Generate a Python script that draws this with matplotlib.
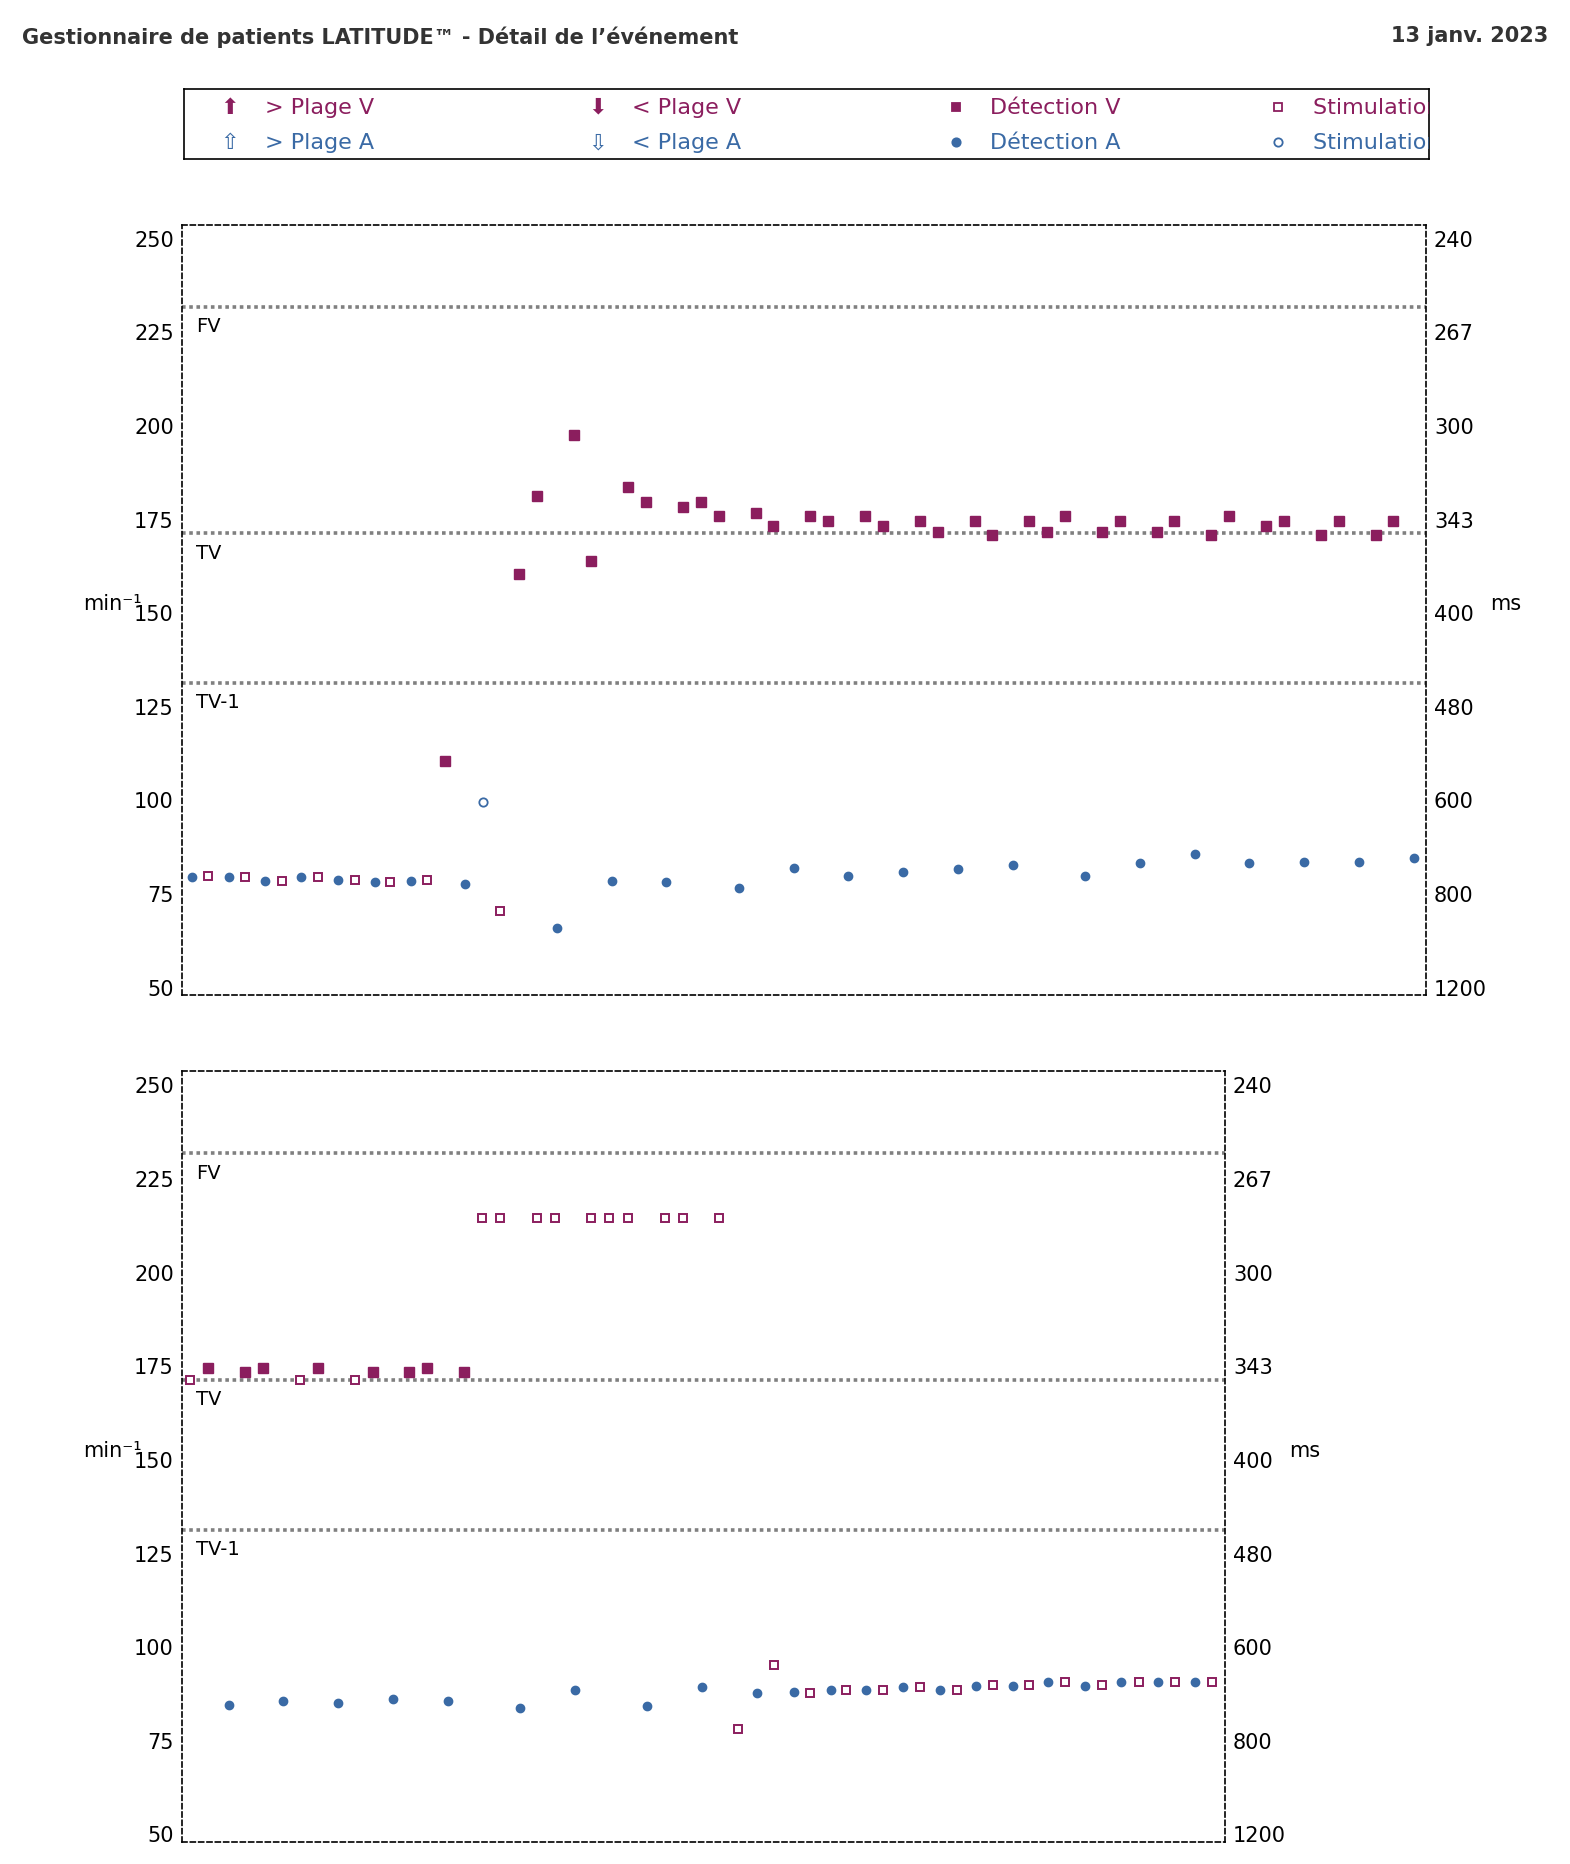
import matplotlib
matplotlib.use("Agg")
import matplotlib.pyplot as plt

MAG = "#8B1E5E"
BLUE = "#3A6AA5"

# ---- data (time in arbitrary units along the strip) ----
top_as_t = [8,39,70,100,131,162,192,238,315,361,407,468,514,560,606,652,698,759,805,851,897,943,989,1035]
top_as_v = [79.3,79.3,78.3,79.3,78.6,78.0,78.3,77.3,65.6,78.3,78.0,76.4,81.8,79.6,80.5,81.5,82.4,79.6,83.1,85.3,83.1,83.4,83.4,84.3]
top_vp_t = [22,53,84,114,145,175,206,267]
top_vp_v = [79.6,79.3,78.3,79.3,78.6,78.0,78.6,70.3]
top_vs_t = [221,283,298,329,344,375,390,421,436,451,482,497,528,543,574,589,620,635,666,681,712,727,742,773,788,819,834,865,880,911,926,957,972,1003,1018]
top_vs_v = [110.4,160.3,181.0,197.2,163.8,183.5,179.4,178.1,179.4,175.6,176.5,173.1,175.6,174.3,175.6,173.1,174.3,171.5,174.3,170.5,174.3,171.5,175.6,171.5,174.3,171.5,174.3,170.5,175.6,173.1,174.3,170.5,174.3,170.5,174.3]
top_ap_t = [253]
top_ap_v = [99.3]

bot_as_t = [39,85,131,177,223,284,330,391,437,483,514,545,575,606,637,667,698,728,759,789,820,851]
bot_as_v = [84.3,85.3,84.9,85.9,85.3,83.4,88.4,83.9,89.0,87.4,87.7,88.4,88.4,89.0,88.4,89.3,89.3,90.3,89.3,90.3,90.3,90.3]
bot_vs_t = [22,53,68,114,160,191,206,237]
bot_vs_v = [174.3,173.1,174.3,174.3,173.1,173.1,174.3,173.1]
bot_vp_t = [7,99,145,252,267,298,313,344,359,375,406,421,451,467,497,528,558,589,620,651,681,712,742,773,804,834,865]
bot_vp_v = [171.1,171.1,171.1,214.4,214.4,214.4,214.4,214.4,214.4,214.4,214.4,214.4,214.4,77.8,95.0,87.4,88.4,88.4,89.0,88.4,89.7,89.7,90.3,89.7,90.3,90.3,90.3]

zones = {"FV": 231.6, "TV": 171.1, "TV-1": 131.1}
yticks = [50, 75, 100, 125, 150, 175, 200, 225, 250]
ms_labels = ["1200", "800", "600", "480", "400", "343", "300", "267", "240"]

fig = plt.figure(figsize=(15.7, 18.65), dpi=100)
fig.text(0.014, 0.986, "Gestionnaire de patients LATITUDE™ - Détail de l’événement",
         fontsize=15, fontweight="bold", color="#333333", va="top")
fig.text(0.986, 0.986, "13 janv. 2023", fontsize=15, fontweight="bold",
         color="#333333", va="top", ha="right")

# legend box
lg = fig.add_axes([0.117, 0.914, 0.793, 0.038])
lg.set_xlim(0, 1); lg.set_ylim(0, 1)
lg.set_xticks([]); lg.set_yticks([])
for s in lg.spines.values():
    s.set_linewidth(1.2)
cols = [0.037, 0.332, 0.62, 0.879]
items = [
    [("> Plage V", "\u2b06", MAG), ("< Plage V", "\u2b07", MAG),
     ("Détection V", "s_f", MAG), ("Stimulation V", "s_o", MAG)],
    [("> Plage A", "\u21e7", BLUE), ("< Plage A", "\u21e9", BLUE),
     ("Détection A", "o_f", BLUE), ("Stimulation A", "o_o", BLUE)],
]
for r, row in enumerate(items):
    yy = 0.74 if r == 0 else 0.24
    for c, (lab, mk, col) in enumerate(row):
        if "_" in mk:
            m, f = mk.split("_")
            lg.plot(cols[c], yy, ls="none", marker=m, mfc=col if f == "f" else "white",
                    mec=col, ms=6, mew=1.3)
        else:
            lg.text(cols[c], yy, mk, color=col, ha="center", va="center",
                    fontsize=16, family=["DejaVu Sans"])
        lg.text(cols[c] + 0.028, yy, lab, color=col, fontsize=16, va="center", clip_on=True)


def strip(rect, xmax, as_t, as_v, vp_t, vp_v, vs_t, vs_v, ms_x, ap_t=None, ap_v=None):
    ax = fig.add_axes(rect)
    ax.set_xlim(0, xmax)
    ax.set_ylim(47.8, 253.5)
    for name, v in zones.items():
        ax.axhline(v, color="#808080", ls=(0, (1, 1)), lw=2.6, zorder=1)
        ax.text(12, v - 2.5, name, fontsize=14, va="top", ha="left")
    ax.plot(as_t, as_v, ls="none", marker="o", ms=6, mfc=BLUE, mec=BLUE, zorder=3)
    if ap_t:
        ax.plot(ap_t, ap_v, ls="none", marker="o", ms=6, mfc="white", mec=BLUE, mew=1.3, zorder=3)
    ax.plot(vp_t, vp_v, ls="none", marker="s", ms=6, mfc="white", mec=MAG, mew=1.4, zorder=3)
    ax.plot(vs_t, vs_v, ls="none", marker="s", ms=6.5, mfc=MAG, mec=MAG, zorder=3)
    ax.set_xticks([])
    ax.set_yticks(yticks)
    ax.set_yticklabels([str(v) for v in yticks], fontsize=15)
    ax.tick_params(axis="y", length=0, pad=6)
    for s in ax.spines.values():
        s.set_linestyle((0, (3, 2)))
        s.set_linewidth(1.2)
    ax2 = ax.twinx()
    ax2.set_ylim(ax.get_ylim())
    ax2.set_yticks(yticks)
    ax2.set_yticklabels(ms_labels, fontsize=15)
    ax2.tick_params(axis="y", length=0, pad=6)
    for s in ax2.spines.values():
        s.set_visible(False)
    yfig = rect[1] + rect[3] * ((150 - 47.8) / (253.5 - 47.8)) + 0.005
    fig.text(0.053, yfig, "min⁻¹", fontsize=15, ha="left", va="center")
    fig.text(ms_x, yfig, "ms", fontsize=15, ha="left", va="center")
    return ax

strip([0.116, 0.466, 0.792, 0.413], 1045, top_as_t, top_as_v, top_vp_t, top_vp_v,
      top_vs_t, top_vs_v, 0.949, top_ap_t, top_ap_v)
strip([0.116, 0.012, 0.664, 0.413], 876, bot_as_t, bot_as_v, bot_vp_t, bot_vp_v,
      bot_vs_t, bot_vs_v, 0.821)

fig.savefig("out.png", dpi=100)
